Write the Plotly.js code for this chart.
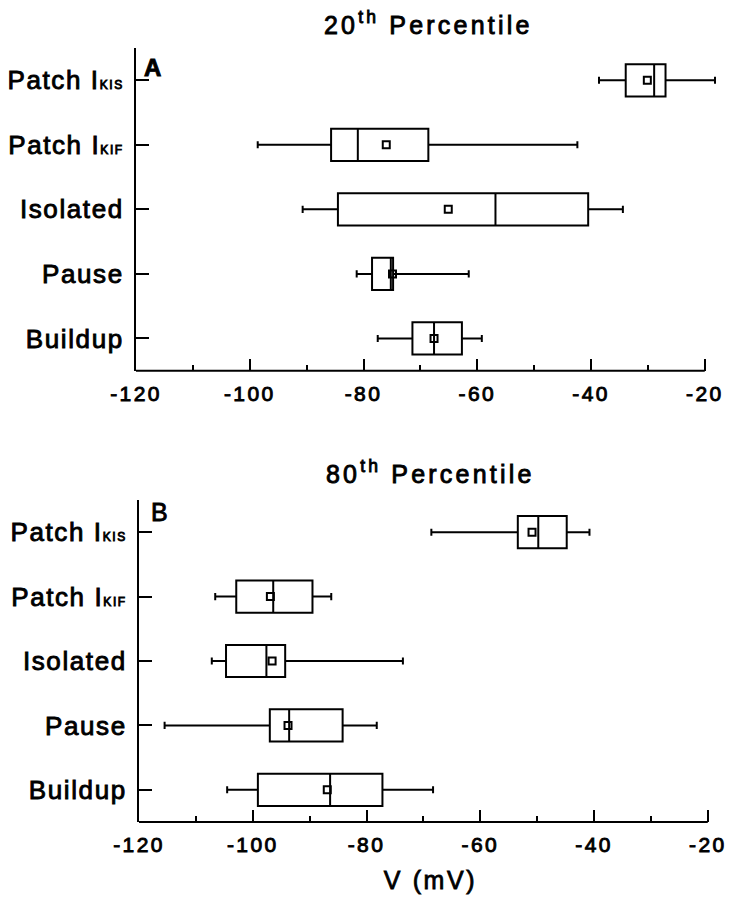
<!DOCTYPE html>
<html>
<head>
<meta charset="utf-8">
<script src="https://cdn.plot.ly/plotly-3.0.1.min.js"></script>
<style>
  html, body { margin: 0; padding: 0; background: #fff; }
  #chart { width: 730px; height: 899px; }
  .xtick text, .x2tick text { letter-spacing: 2.4px; stroke: #000; stroke-width: 0.9px; }
  .ytick text, .y2tick text { letter-spacing: 1.6px; stroke: #000; stroke-width: 0.9px; }
  .annotation-text { letter-spacing: 3.2px; stroke: #000; stroke-width: 0.9px; }
  .x2title { letter-spacing: 2.6px; stroke: #000; stroke-width: 0.8px; }
</style>
</head>
<body>
<div id="chart"></div>
<script>
// ---- data ----
const categories = ["Patch IKIS", "Patch IKIF", "Isolated", "Pause", "Buildup"];
const categoryLabels = [
  "Patch I<span style='font-size:12px'>KIS</span>",
  "Patch I<span style='font-size:12px'>KIF</span>",
  "Isolated", "Pause", "Buildup"
];

// Panel A: 20th percentile
const a_low    = [-38.6, -98.6, -90.7, -81.2, -77.5];
const a_q1     = [-33.9, -85.7, -84.5, -78.5, -71.4];
const a_median = [-28.9, -81.0, -56.8, -75.2, -67.6];
const a_q3     = [-26.9, -68.6, -40.5, -74.8, -62.7];
const a_high   = [-18.2, -42.4, -34.4, -61.5, -59.2];
const a_mean   = [-30.1, -76.0, -65.1, -74.9, -67.6];

// Panel B: 80th percentile
const b_low    = [-68.6, -106.6, -107.2, -115.5, -104.5];
const b_q1     = [-53.4, -102.9, -104.7, -97.0, -99.1];
const b_median = [-49.8, -96.4, -97.6, -93.6, -86.4];
const b_q3     = [-44.8, -89.5, -94.3, -84.2, -77.2];
const b_high   = [-40.8, -86.2, -73.6, -78.2, -68.3];
const b_mean   = [-50.9, -96.9, -96.6, -93.8, -86.9];

const majorTicks = [-120, -100, -80, -60, -40, -20];
const majorTickText = ["-120", "-100", "-80", "-60", "-40", "-20"];
const minorTicks = [-110, -90, -70, -50, -30];
const axisMin = -120, axisMax = -20;

const titleA = "20<sup>th</sup> Percentile";
const titleB = "80<sup>th</sup> Percentile";
const xTitle = "V (mV)";

// ---- styling ----
const FONT = "Liberation Sans, Arial, Helvetica, sans-serif";
const black = "#000";

function boxTrace(q1, med, q3, lo, hi, xa, ya) {
  return {
    type: "box", orientation: "h",
    y: categories, q1: q1, median: med, q3: q3,
    lowerfence: lo, upperfence: hi,
    xaxis: xa, yaxis: ya,
    width: 0.5, whiskerwidth: 0.22,
    fillcolor: "rgba(255,255,255,0)",
    line: { color: black, width: 2 },
    boxpoints: false, hoverinfo: "skip"
  };
}
function meanTrace(mean, xa, ya) {
  return {
    type: "scatter", mode: "markers",
    x: mean, y: categories, xaxis: xa, yaxis: ya,
    marker: { symbol: "square-open", size: 7, color: black, line: { width: 2, color: black } },
    hoverinfo: "skip"
  };
}

const data = [
  boxTrace(a_q1, a_median, a_q3, a_low, a_high, "x", "y"),
  meanTrace(a_mean, "x", "y"),
  boxTrace(b_q1, b_median, b_q3, b_low, b_high, "x2", "y2"),
  meanTrace(b_mean, "x2", "y2")
];

function xAxis(domain, anchor, extra) {
  return Object.assign({
    domain: domain, anchor: anchor,
    range: [axisMin, -17.5],
    tickmode: "array", tickvals: majorTicks, ticktext: majorTickText,
    ticks: "inside", ticklen: 12, tickwidth: 2, tickcolor: black,
    minor: { tickmode: "array", tickvals: minorTicks, ticks: "inside", ticklen: 6, tickwidth: 2, tickcolor: black, showgrid: false },
    showline: false, showgrid: false, zeroline: false,
    ticklabelstandoff: 8,
    tickfont: { family: FONT, size: 21, color: black },
    fixedrange: true
  }, extra || {});
}
function yAxis(domain, anchor) {
  return {
    domain: domain, anchor: anchor,
    type: "category", categoryarray: categories.slice().reverse(),
    range: [-0.5, 4.5],
    tickmode: "array", tickvals: categories, ticktext: categoryLabels,
    ticks: "inside", ticklen: 13, tickwidth: 2, tickcolor: black,
    showline: true, linewidth: 2, linecolor: black,
    showgrid: false, zeroline: false,
    ticklabelstandoff: 5,
    tickfont: { family: FONT, size: 26, color: black },
    fixedrange: true
  };
}

const H = 899, W = 730;
const layout = {
  width: W, height: H,
  margin: { l: 0, r: 0, t: 0, b: 0 },
  paper_bgcolor: "#fff", plot_bgcolor: "#fff",
  showlegend: false,
  font: { family: FONT, color: black },
  xaxis: xAxis([136 / W, 719 / W], "y"),
  yaxis: yAxis([1 - 370.7 / H, 1 - 48 / H], "x"),
  xaxis2: xAxis([139 / W, 722 / W], "y2", {
    title: { text: xTitle, font: { family: FONT, size: 25, color: black }, standoff: 16 }
  }),
  yaxis2: yAxis([1 - 822 / H, 1 - 500 / H], "x2"),
  shapes: [
    { type: "line", xref: "x", yref: "y domain", x0: axisMin, x1: axisMax, y0: 0, y1: 0, line: { color: black, width: 2 } },
    { type: "line", xref: "x2", yref: "y2 domain", x0: axisMin, x1: axisMax, y0: 0, y1: 0, line: { color: black, width: 2 } }
  ],
  annotations: [
    { text: titleA, xref: "paper", yref: "paper", x: 428 / W, y: 1 - 23 / H, xanchor: "center", yanchor: "middle", showarrow: false,
      font: { family: FONT, size: 25, color: black } },
    { text: titleB, xref: "paper", yref: "paper", x: 430 / W, y: 1 - 472 / H, xanchor: "center", yanchor: "middle", showarrow: false,
      font: { family: FONT, size: 25, color: black } },
    { text: "A", xref: "paper", yref: "paper", x: 142 / W, y: 1 - 52 / H, xanchor: "left", yanchor: "top", showarrow: false,
      font: { family: FONT, size: 24, color: black, weight: "bold" } },
    { text: "B", xref: "paper", yref: "paper", x: 149 / W, y: 1 - 496 / H, xanchor: "left", yanchor: "top", showarrow: false,
      font: { family: FONT, size: 25, color: black } }
  ]
};

Plotly.newPlot("chart", data, layout, { displayModeBar: false, staticPlot: true });
</script>
</body>
</html>
